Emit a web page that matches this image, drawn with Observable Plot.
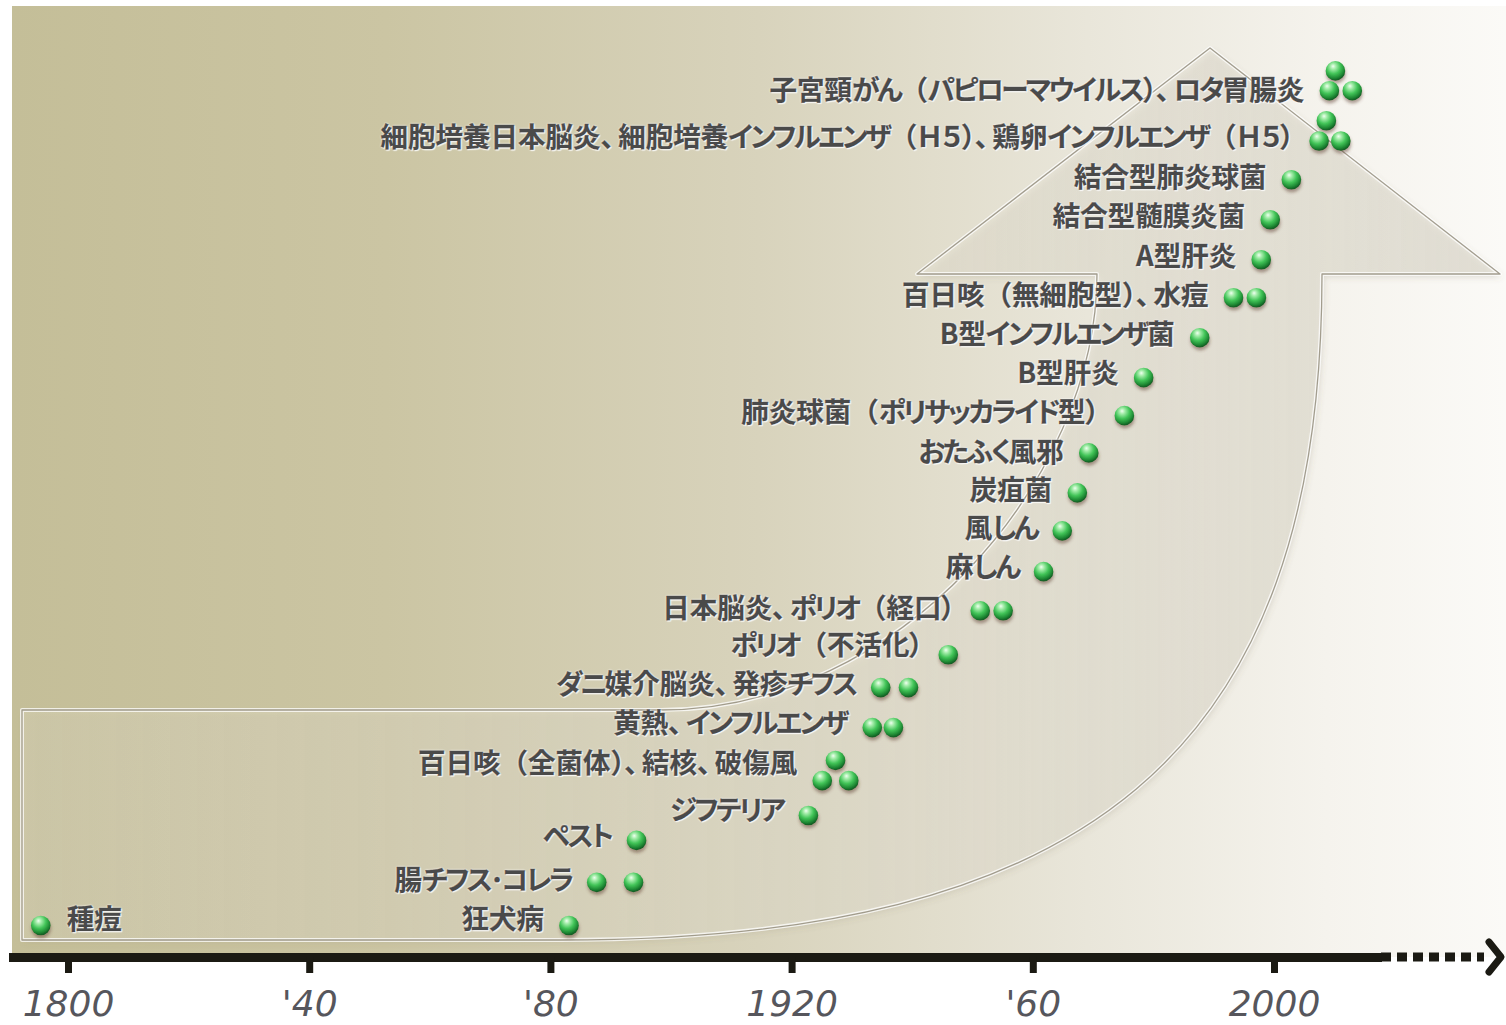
<!DOCTYPE html>
<html lang="ja">
<head>
<meta charset="utf-8">
<script src="https://cdn.jsdelivr.net/npm/d3@7"></script>
<script src="https://cdn.jsdelivr.net/npm/@observablehq/plot@0.6"></script>
<style>
  html, body { margin: 0; padding: 0; background: #ffffff; }
  #chart svg { display: block; }
  .vaccine-labels text {
    text-shadow: 0 0 2px rgba(255,255,255,0.9), 1px 1px 1px rgba(255,255,255,0.75);
  }
  .vaccine-labels tspan.kana { font-feature-settings: "palt"; letter-spacing: -2.5px; }
  .vaccine-labels tspan.comma { font-feature-settings: "palt"; letter-spacing: 4px; }
  .vaccine-labels tspan.alnum { font-feature-settings: "palt"; letter-spacing: -1px; }
  .vaccine-labels tspan.tail { font-feature-settings: "palt"; }
  .year-axis text { text-shadow: 0 0 3px rgba(255,255,255,0.9); }
</style>
</head>
<body>
<div id="chart"></div>
<script>
// One label per row of the timeline
const vaccineNames = [
  "種痘",
  "狂犬病",
  "腸チフス･コレラ",
  "ペスト",
  "ジフテリア",
  "百日咳（全菌体）、結核、破傷風",
  "黄熱、インフルエンザ",
  "ダニ媒介脳炎、発疹チフス",
  "ポリオ（不活化）",
  "日本脳炎、ポリオ（経口）",
  "麻しん",
  "風しん",
  "炭疽菌",
  "おたふく風邪",
  "肺炎球菌（ポリサッカライド型）",
  "B型肝炎",
  "B型インフルエンザ菌",
  "百日咳（無細胞型）、水痘",
  "A型肝炎",
  "結合型髄膜炎菌",
  "結合型肺炎球菌",
  "細胞培養日本脳炎、細胞培養インフルエンザ（Ｈ５）、鶏卵インフルエンザ（Ｈ５）",
  "子宮頸がん（パピローマウイルス）、ロタ胃腸炎"
];
// Row height of each label on the rising timeline
const labelLevels = [
  0.13, 0.13, 1.11, 2.22, 2.90, 4.07, 5.08, 6.06, 7.05, 8.00, 9.02, 10.00,
  10.98, 11.94, 12.95, 13.94, 14.92, 15.91, 16.89, 17.90, 18.89, 19.90, 21.09
];

// Each vaccine dot: its row, the year it appeared, and its height
const dotRow = [
  0, 1, 2, 2, 3, 4, 5, 5, 5, 6, 6, 7, 7, 8, 9, 9, 10, 11, 12, 13,
  14, 15, 16, 17, 17, 18, 19, 20, 21, 21, 21, 22, 22, 22
];
const dotYear = [
  1795.4, 1883.0, 1887.6, 1893.7, 1894.2, 1922.7, 1927.2, 1925.0, 1929.4,
  1933.3, 1936.8, 1934.7, 1939.3, 1945.9, 1951.2, 1955.0, 1961.7, 1964.8,
  1967.3, 1969.2, 1975.1, 1978.3, 1987.6, 1993.2, 1997.0, 1997.8, 1999.3,
  2002.8, 2008.6, 2007.4, 2011.0, 2010.1, 2009.1, 2012.9
];
const dotLevel = [
  0.00, 0.00, 1.09, 1.09, 2.15, 2.78, 4.17, 3.66, 3.66, 5.00, 5.00, 6.01,
  6.01, 6.84, 7.95, 7.95, 8.94, 9.97, 10.93, 11.94, 12.88, 13.84, 14.85,
  15.86, 15.86, 16.82, 17.83, 18.84, 20.33, 19.82, 19.82, 21.59, 21.09, 21.09
];

// Year axis
const tickYears = [1800, 1840, 1880, 1920, 1960, 2000];
const tickLabels = ["1800", "'40", "'80", "1920", "'60", "2000"];

const dots = dotYear.map((year, i) => ({year, level: dotLevel[i], row: dotRow[i]}));
const rows = vaccineNames.map((name, i) => ({
  name,
  level: labelLevels[i],
  first: d3.min(dots.filter(d => d.row === i), d => d.year)
}));

const W = 1506, H = 1025;
const labelFont = "'Noto Sans CJK JP', 'Noto Sans CJK SC', sans-serif";
const labelStyle = {
  fontSize: 27.5, fontWeight: "bold", fill: "#4a4a4a", fontFamily: labelFont, lineAnchor: "middle",
  stroke: "#4a4a4a", strokeWidth: 0.5
};

const svg = Plot.plot({
  width: W,
  height: H,
  marginTop: 0,
  marginLeft: 13,
  marginRight: 129,
  marginBottom: 68,
  style: {background: "transparent", overflow: "visible", fontFamily: labelFont},
  x: {domain: [1800, 2000], range: [68, 1274]},
  y: {domain: [0, 21.6], range: [925, 70], axis: null},
  marks: [
    Plot.frame({anchor: "bottom", stroke: "#1b1a13", strokeWidth: 9}),
    Plot.axisX({
      ticks: tickYears,
      tickFormat: d => tickLabels[tickYears.indexOf(d)],
      tickSize: 16,
      tickPadding: 17,
      stroke: "#1b1a13",
      strokeWidth: 7,
      fill: "#56565c",
      fontSize: 36,
      fontStyle: "italic",
      fontFamily: "'DejaVu Sans', Verdana, sans-serif",
      label: null,
      className: "year-axis"
    }),
    // labels to the left of their dots
    Plot.text(rows.filter(r => r.first >= 1800), {
      x: "first", y: "level", text: "name", textAnchor: "end", dx: -25,
      className: "vaccine-labels", ...labelStyle
    }),
    // the earliest entry sits at the left edge, so its label goes right
    Plot.text(rows.filter(r => r.first < 1800), {
      x: "first", y: "level", text: "name", textAnchor: "start", dx: 26,
      className: "vaccine-labels", ...labelStyle
    }),
    Plot.dot(dots, {x: "year", y: "level", r: 9.8, fill: "#2fae44", className: "spheres"})
  ]
});

const root = d3.select(svg);

// kana, the ideographic comma and full-width letters get proportional widths;
// kanji and brackets stay full width, except a bracket closing the label
const charClass = (ch, last) =>
  /[\u3040-\u30ff･\uff65]/.test(ch) ? "kana"
  : ch === "、" ? "comma"
  : /[\uff10-\uff5a]/.test(ch) ? "alnum"
  : (last && ch === "）") ? "tail"
  : "full";
root.selectAll("g.vaccine-labels text").each(function () {
  const chars = Array.from(this.textContent);
  const runs = [];
  chars.forEach((ch, i) => {
    const c = charClass(ch, i === chars.length - 1);
    if (runs.length && runs[runs.length - 1].c === c) runs[runs.length - 1].t += ch;
    else runs.push({c, t: ch});
  });
  const el = d3.select(this);
  el.text(null);
  runs.forEach(r => el.append("tspan").attr("class", r.c).text(r.t));
});

// gradients and filters
const defs = root.insert("defs", ":first-child");
const bg = defs.append("linearGradient").attr("id", "panelBg").attr("x1", 0).attr("x2", 1).attr("y1", 0).attr("y2", 0);
[[0, "#c4be98"], [0.25, "#cbc5a3"], [0.5, "#d8d3bc"], [0.72, "#e9e6da"], [0.88, "#f5f3ed"], [1, "#fbfaf7"]]
  .forEach(([o, c]) => bg.append("stop").attr("offset", o).attr("stop-color", c));

const sphere = defs.append("radialGradient").attr("id", "sphere")
  .attr("cx", "42%").attr("cy", "32%").attr("r", "65%").attr("fx", "38%").attr("fy", "26%");
[[0, "#effff0"], [0.22, "#a2eca8"], [0.55, "#42c458"], [0.85, "#1f8a34"], [1, "#136126"]]
  .forEach(([o, c]) => sphere.append("stop").attr("offset", o).attr("stop-color", c));

const dotShadow = defs.append("filter").attr("id", "dotShadow")
  .attr("x", "-50%").attr("y", "-50%").attr("width", "200%").attr("height", "220%");
dotShadow.append("feDropShadow").attr("dx", 0.5).attr("dy", 3).attr("stdDeviation", 1.6)
  .attr("flood-color", "#5a3a2a").attr("flood-opacity", 0.45);

const arrowShadow = defs.append("filter").attr("id", "arrowShadow")
  .attr("x", "-5%").attr("y", "-5%").attr("width", "110%").attr("height", "110%");
arrowShadow.append("feDropShadow").attr("dx", 2).attr("dy", 3).attr("stdDeviation", 3)
  .attr("flood-color", "#6b6248").attr("flood-opacity", 0.4);

const arrowFill = defs.append("linearGradient").attr("id", "arrowFill").attr("x1", 0).attr("x2", 1).attr("y1", 0).attr("y2", 0);
[[0, "rgba(240,236,220,0.22)"], [0.6, "rgba(236,232,218,0.35)"], [1, "rgba(222,218,204,0.55)"]]
  .forEach(([o, c]) => arrowFill.append("stop").attr("offset", o).attr("stop-color", c));

// decorative backdrop: tinted panel and the rising arrow
const back = root.insert("g", "defs + *").attr("class", "backdrop");
back.append("rect").attr("x", 12).attr("y", 6).attr("width", W - 12).attr("height", 951)
  .attr("fill", "url(#panelBg)");

const arrowPath = [
  "M1210,48", "L1500,274", "L1322,274",
  "C1322,760 1080,940 560,940",
  "L22,940", "L22,710", "L660,710",
  "C900,710 1097,480 1097,274",
  "L917,274", "Z"
].join(" ");
back.append("path").attr("d", arrowPath)
  .attr("fill", "url(#arrowFill)")
  .attr("filter", "url(#arrowShadow)");
back.append("path").attr("d", arrowPath)
  .attr("fill", "none")
  .attr("stroke", "rgba(255,255,255,0.75)")
  .attr("stroke-width", 4)
  .attr("stroke-linejoin", "round");
back.append("path").attr("d", arrowPath)
  .attr("fill", "none")
  .attr("stroke", "rgba(105,96,74,0.6)")
  .attr("stroke-width", 1.3)
  .attr("stroke-linejoin", "round");

// green spheres
root.selectAll("g.spheres").attr("filter", "url(#dotShadow)");
root.selectAll("g.spheres circle").attr("fill", "url(#sphere)").attr("stroke", "none");

// dotted continuation of the time axis and its arrowhead
const axisEnd = W - 129;
const axisY = H - 68;
root.append("line")
  .attr("x1", axisEnd + 4).attr("x2", W - 22).attr("y1", axisY).attr("y2", axisY)
  .attr("stroke", "#1b1a13").attr("stroke-width", 9).attr("stroke-dasharray", "10,6");
root.append("path")
  .attr("d", `M${W - 17},${axisY - 15} L${W - 5},${axisY} L${W - 17},${axisY + 15}`)
  .attr("fill", "none").attr("stroke", "#1b1a13").attr("stroke-width", 7)
  .attr("stroke-linecap", "round").attr("stroke-linejoin", "round");

document.getElementById("chart").appendChild(svg);
</script>
</body>
</html>
